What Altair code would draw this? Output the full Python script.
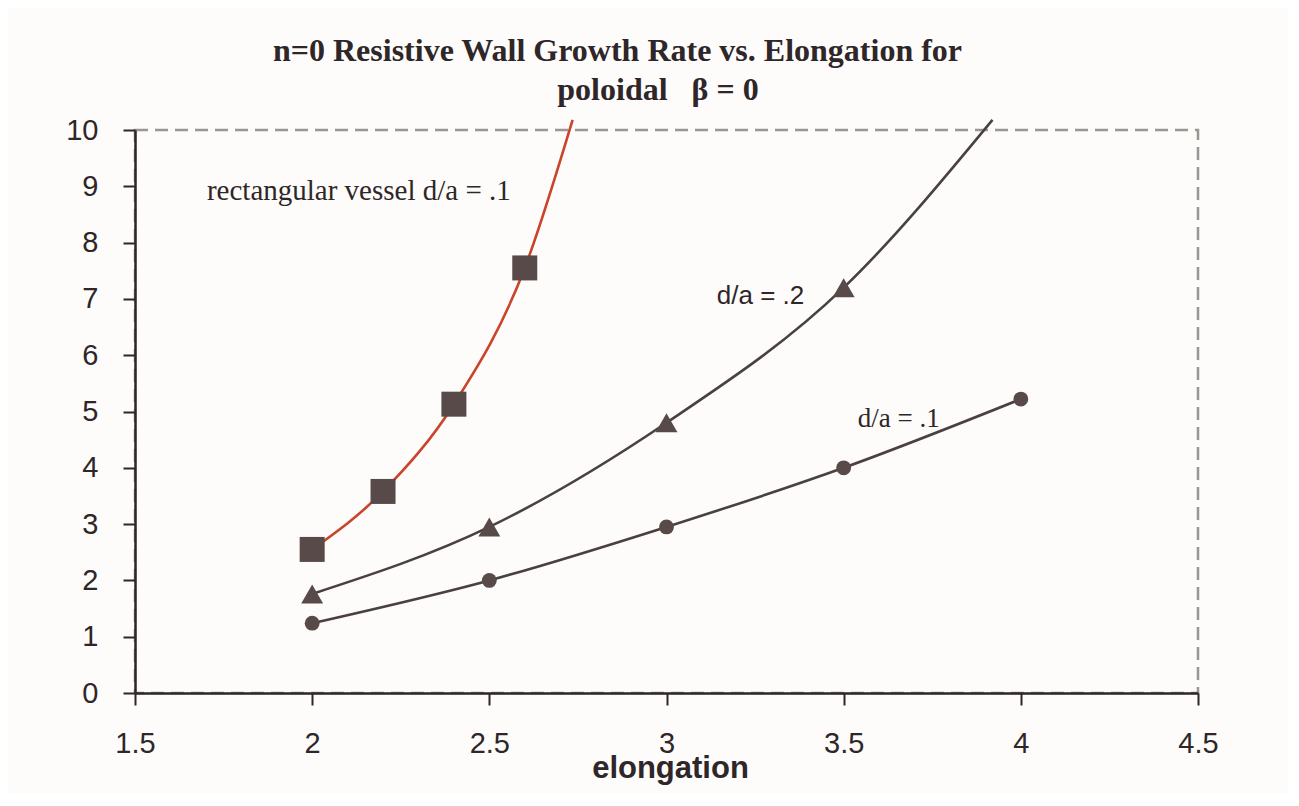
import altair as alt
import pandas as pd

# --- data ---
sq_x = [2.0, 2.2, 2.4, 2.6]
sq_y = [2.55, 3.58, 5.13, 7.55]
sq_ext_x = [2.735]
sq_ext_y = [10.18]

tri_x = [2.0, 2.5, 3.0, 3.5]
tri_y = [1.76, 2.95, 4.80, 7.20]
tri_ext_x = [3.92]
tri_ext_y = [10.18]

cir_x = [2.0, 2.5, 3.0, 3.5, 4.0]
cir_y = [1.24, 2.00, 2.95, 4.00, 5.22]

ann_text = ["rectangular vessel d/a = .1", "d/a = .2", "d/a = .1"]
ann_x = [1.703, 3.142, 3.540]
ann_y = [8.757, 6.909, 4.725]
ann_font = ["Liberation Serif", "Liberation Sans", "Liberation Serif"]
ann_size = [29, 26, 27]

x_ticks = [1.5, 2, 2.5, 3, 3.5, 4, 4.5]
y_ticks = list(range(0, 11))

title_line1 = "n=0 Resistive Wall Growth Rate vs. Elongation for"
title_line2 = ["poloidal\u00a0\u00a0\u00a0\u03b2 = 0"]
title_line2_x = [2.976]
title_line2_y = [10.533]

DARK = "#2e2628"
MARK = "#574a48"
LINE = "#4a4042"
RED = "#c9442a"

sq_line = pd.DataFrame({"x": sq_x + sq_ext_x, "y": sq_y + sq_ext_y})
tri_line = pd.DataFrame({"x": tri_x + tri_ext_x, "y": tri_y + tri_ext_y})
cir_line = pd.DataFrame({"x": cir_x, "y": cir_y})
sq_pts = pd.DataFrame({"x": sq_x, "y": sq_y})
tri_pts = pd.DataFrame({"x": tri_x, "y": tri_y})
cir_pts = pd.DataFrame({"x": cir_x, "y": cir_y})

xs = alt.Scale(domain=[1.5, 4.5], nice=False, zero=False)
ys = alt.Scale(domain=[0, 10], nice=False, zero=False)

X = alt.X("x:Q", scale=xs, title="elongation",
          axis=alt.Axis(values=x_ticks, format="~g", grid=False, tickSize=12,
                        tickWidth=2, domainWidth=2.5, domainColor=DARK,
                        tickColor=DARK, zindex=1,
                        labelFont="Liberation Sans", labelFontSize=29,
                        labelColor=DARK, labelPadding=24, labelFlush=False,
                        titleFont="Liberation Sans", titleFontSize=31,
                        titleFontWeight="bold", titleColor=DARK,
                        titleY=84, titleBaseline="alphabetic", titleX=535))
Y = alt.Y("y:Q", scale=ys, title=None,
          axis=alt.Axis(values=y_ticks, grid=False, tickSize=12, tickWidth=2,
                        domainWidth=2.5, domainColor=DARK, tickColor=DARK,
                        zindex=1,
                        labelFont="Liberation Sans", labelFontSize=29,
                        labelColor=DARK, labelPadding=25, labelFlush=False))

def line(df, color):
    return alt.Chart(df).mark_line(color=color, strokeWidth=2.6,
                                   interpolate="monotone", clip=False).encode(x=X, y=Y)

def pts(df, shape, size):
    return alt.Chart(df).mark_point(shape=shape, size=size, filled=True,
                                    color=MARK, opacity=1, clip=False).encode(x=X, y=Y)

ann = pd.DataFrame({"x": ann_x, "y": ann_y, "t": ann_text})
texts = []
for i in range(len(ann_text)):
    texts.append(
        alt.Chart(ann.iloc[[i]]).mark_text(
            align="left", baseline="alphabetic", font=ann_font[i],
            fontSize=ann_size[i], color=DARK
        ).encode(x=X, y=Y, text="t:N")
    )

t2 = pd.DataFrame({"x": title_line2_x, "y": title_line2_y, "t": title_line2})
title2 = alt.Chart(t2).mark_text(
    align="center", baseline="alphabetic", font="Liberation Serif",
    fontSize=32, fontWeight="bold", color=DARK, clip=False
).encode(x=X, y=Y, text="t:N")

chart = alt.layer(
    line(sq_line, RED), line(tri_line, LINE), line(cir_line, LINE),
    pts(sq_pts, "square", 625), pts(tri_pts, "triangle-up", 480),
    pts(cir_pts, "circle", 220),
    *texts, title2
).properties(
    width=1063, height=563,
    title=alt.TitleParams(text=title_line1, font="Liberation Serif", fontSize=32,
                          fontWeight="bold", color=DARK,
                          anchor="middle", dx=-49, offset=6),
    autosize=alt.AutoSizeParams(type="none"),
    padding={"left": 127, "top": 122, "right": 90, "bottom": 100},
    background="#fdfcfa",
).configure_view(
    stroke="#9d958f", strokeWidth=2.5, strokeDash=[13, 7]
)

chart.save("out.html", embed_options={"renderer": "svg", "actions": False})
